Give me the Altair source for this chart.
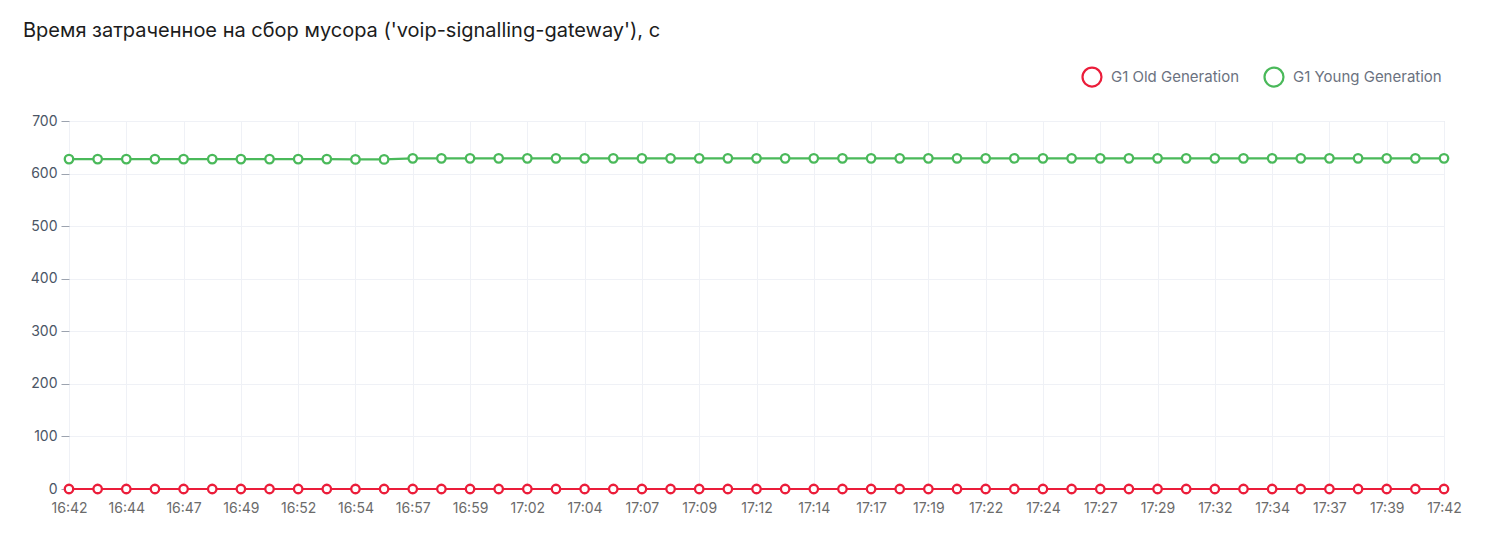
import altair as alt
import pandas as pd

# ---- data ----
start = "2024-01-01T16:42:00Z"
n_points = 49
step_seconds = 75
series_names = ["G1 Old Generation", "G1 Young Generation"]
series_colors = ["#eb1d3a", "#4ab95a"]

old_values = [0, 0, 0, 0, 0, 0, 0, 0, 0, 0,
              0, 0, 0, 0, 0, 0, 0, 0, 0, 0,
              0, 0, 0, 0, 0, 0, 0, 0, 0, 0,
              0, 0, 0, 0, 0, 0, 0, 0, 0, 0,
              0, 0, 0, 0, 0, 0, 0, 0, 0]
young_values = [627.5, 627.5, 627.5, 627.5, 627.5, 627.5, 627.5, 627.5, 627.5, 627.5,
                627.0, 627.0, 629.0, 629.0, 629.0, 629.0, 629.0, 629.0, 629.0, 629.0,
                629.0, 629.0, 629.0, 629.0, 629.0, 629.0, 629.0, 629.0, 629.0, 629.0,
                629.0, 629.0, 629.0, 629.0, 629.0, 629.0, 629.0, 629.0, 629.0, 629.0,
                629.0, 629.0, 629.0, 629.0, 629.0, 629.0, 629.0, 629.0, 629.0]
y_ticks = [0, 100, 200, 300, 400, 500, 600, 700]

times = pd.date_range(start, periods=n_points, freq=f"{step_seconds}s")
time_strings = [t.strftime("%Y-%m-%dT%H:%M:%SZ") for t in times]
tick_ms = [int(t.value // 10**6) for t in times[::2]]

rows = []
for name, vals in zip(series_names, [old_values, young_values]):
    for ts, v in zip(time_strings, vals):
        rows.append({"time": ts, "value": v, "series": name})
df = pd.DataFrame(rows)

FONT = "Inter"

x_enc = alt.X(
    "time:T",
    scale=alt.Scale(type="utc"),
    axis=alt.Axis(
        title=None, values=tick_ms, format="%H:%M", labelAngle=0,
        grid=True, gridColor="#eff1f6", ticks=False, domain=False,
        labelPadding=12, labelFontSize=14, labelColor="#6b6b6b", labelFont=FONT,
        labelFlush=False,
    ),
)
y_enc = alt.Y(
    "value:Q",
    scale=alt.Scale(domain=[0, 700], nice=False),
    axis=alt.Axis(
        title=None, values=y_ticks, grid=True, gridColor="#eff1f6",
        domain=False, tickSize=8, tickColor="#9ca3af", labelPadding=4,
        labelFontSize=14, labelColor="#4b5565", labelFont=FONT,
    ),
)
color_scale = alt.Scale(domain=series_names, range=series_colors)
legend = alt.Legend(
    title=None, orient="none", direction="horizontal",
    legendX=1012, legendY=-55, symbolType="circle", symbolSize=360,
    symbolStrokeWidth=2.2, symbolFillColor="white",
    labelFontSize=15, labelColor="#6b7280", labelFont=FONT,
    columnPadding=20, labelOffset=8,
)

lines = alt.Chart(df).mark_line(strokeWidth=2.2).encode(
    x=x_enc, y=y_enc,
    color=alt.Color("series:N", scale=color_scale, legend=legend),
)
points = alt.Chart(df).mark_point(
    shape="circle", filled=False, fill="white", fillOpacity=1, size=72, strokeWidth=2.3, opacity=1
).encode(
    x=x_enc, y=y_enc,
    color=alt.Color("series:N", scale=color_scale, legend=legend),
)

chart = alt.layer(lines, points).properties(
    width=1375, height=368,
    padding={"left": 61, "top": 113, "right": 37, "bottom": 40},
    autosize=alt.AutoSizeParams(type="none"),
    title=alt.TitleParams(
        "Время затраченное на сбор мусора ('voip-signalling-gateway'), с",
        anchor="start", frame="group", dx=-46, offset=25,
        fontSize=20, font=FONT, fontWeight="normal", color="#1c1c1c",
    ),
).configure_view(stroke=None).configure(background="white")

chart.save("out.html", embed_options={"renderer": "svg", "actions": False})
